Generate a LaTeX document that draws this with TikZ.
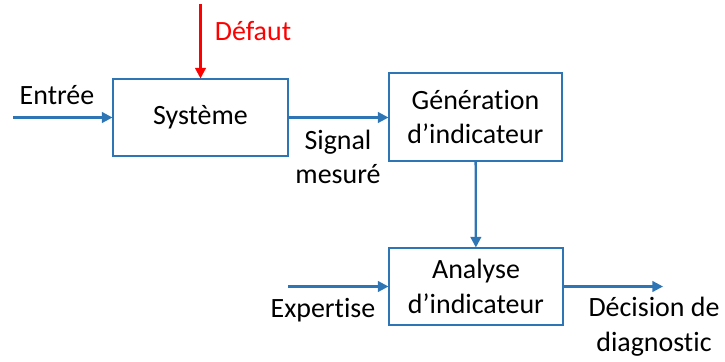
\documentclass[tikz,border=0pt]{standalone}
\usepackage{fontspec}
\setmainfont{Carlito}[Ligatures={NoCommon}]
\usepackage{tikz}
\usetikzlibrary{arrows.meta,positioning}

\definecolor{bleu}{RGB}{46,117,182}
\definecolor{rouge}{RGB}{255,0,0}

\tikzset{
	bloc/.style={draw=bleu, line width=0.6pt, align=center, inner sep=0pt},
	fleche/.style={draw=bleu, line width=1.3pt, -{Triangle[length=6pt,width=6pt]}},
	texte/.style={align=center, inner sep=0pt}
}

\begin{document}
\begin{tikzpicture}[x=0.02cm, y=-0.02cm, font=\fontsize{15.9}{19.8}\selectfont]
	\useasboundingbox (0,0) rectangle (725,362);
		\node[bloc, minimum width=3.5cm, minimum height=1.54cm] (sys) at (200.5,117.5){Système};
		\node[bloc, minimum width=3.46cm, minimum height=1.76cm] (gen) at (475.5,117){Génération\\d’indicateur};
		\node[bloc, minimum width=3.48cm, minimum height=1.54cm] (ana) at (476,286.5){Analyse\\d’indicateur};

		\coordinate (in) at (13,117.5);
		\coordinate (def) at (200.5,4);
		\coordinate (exp) at (288,286.5);
		\coordinate (out) at (663,286.5);

	\node[texte] (entree) at (57,95){Entrée};
	\node[texte, text=rouge] (defaut) at (253,31){Défaut};
	\node[texte] (signal) at (338,157){Signal\\mesuré};
	\node[texte] (expertise) at (323,310){Expertise};
	\node[texte] (decision) at (654,327){Décision de\\diagnostic};

		\draw[fleche] (in) -- (sys);
		\draw[fleche, draw=rouge] (def) -- (sys);
		\draw[fleche] (sys) -- (sys -| gen.west);
		\draw[fleche] (gen) -- (ana);
		\draw[fleche] (exp) -- (ana);
		\draw[fleche] (ana) -- (out);

\end{tikzpicture}
\end{document}
